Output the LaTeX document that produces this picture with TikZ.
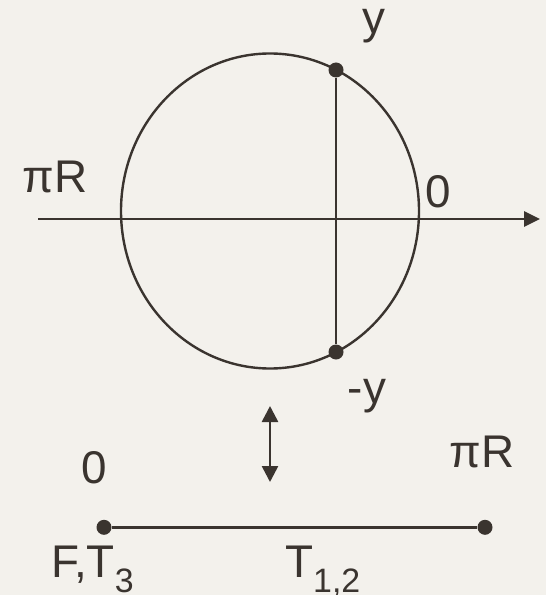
\documentclass[tikz,border=0pt]{standalone}
\usepackage{fontspec}
\setmainfont{Liberation Sans}
\usepackage{xcolor}
\usepackage{tikz}
\usetikzlibrary{positioning,arrows.meta}
\definecolor{ink}{HTML}{3A342F}
\definecolor{paper}{HTML}{F3F1EC}
\newcommand{\subidx}[1]{\raisebox{-15bp}{\fontsize{34}{34}\selectfont #1}}
\tikzset{
    lbl/.style={inner sep=0pt, anchor=base, font=\fontsize{46}{50}\selectfont, text=ink},
    dot/.style={circle, fill=ink, inner sep=0pt, minimum size=15bp},
    line/.style={draw=ink, line width=2.4bp},
    arrow/.style={-{Triangle[length=16bp, width=15bp]}, draw=ink, line width=2.6bp},
    dblarrow/.style={{Triangle[length=16bp, width=16bp]}-{Triangle[length=16bp, width=16bp]}, draw=ink, line width=2.6bp}
}

\begin{document}
\begin{tikzpicture}[x=1bp, y=-1bp]

% Background
\fill[paper] (0,0) rectangle (546,595);
\useasboundingbox (0,0) rectangle (546,595);

% Circle and axis
\draw[line] (270,211) ellipse [x radius=149, y radius=157.5];
\coordinate (axl) at (38,219);
\coordinate (axr) at (540,219);
\draw[arrow] (axl) -- (axr);

% Points y and -y
\node[dot] at (336,70) (ptop) {};
\node[dot] at (336,352) (pbot) {};
\draw[line] (ptop) -- (pbot);

\node[lbl] at (374,34) (ylbl) {y};
\node[lbl] at (367,403) (nylbl) {-y};
\node[lbl] at (55,192) (pilbl) {πR};
\node[lbl] at (438.5,207) (zlbl) {0};

% Correspondence
\coordinate (arrt) at (270,406);
\coordinate (arrb) at (270,482);
\draw[dblarrow] (arrt) -- (arrb);

% Interval
\node[dot] at (104,527.3) (pzero) {};
\node[dot] at (485,527.3) (ppi) {};
\draw[line] (pzero) -- (ppi);

\node[lbl] at (94,483) (zlbl2) {0};
\node[lbl] at (482,467) (pilbl2) {πR};
\node[lbl, anchor=base west] at (51,577) (flbl) {F,T\subidx{3}};
\node[lbl, anchor=base west] at (285,577) (tlbl) {T\subidx{1,2}};

\end{tikzpicture}
\end{document}
